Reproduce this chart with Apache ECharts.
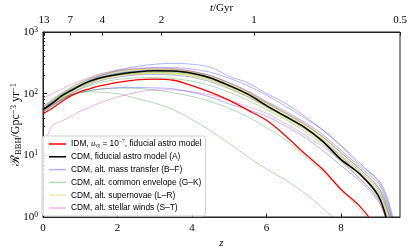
<!DOCTYPE html>
<html><head><meta charset="utf-8">
<script src="https://cdn.jsdelivr.net/npm/echarts@6/dist/echarts.min.js"></script>
<style>html,body{margin:0;padding:0;background:#fff}#c{width:413px;height:252px}</style>
</head><body><div id="c"></div>
<script>
// redshift grid shared by every curve
const zValues = [0,0.25,0.5,0.75,1,1.25,1.5,2,2.5,3,3.5,4,4.5,5,5.5,6,6.5,7,7.5,8,8.5,9,9.25,9.5];

const idmFiducial = [47,58,74,92,108,120,132,152,168,172,165,135,105,78,54,37,21,11,6,2.8,1.5,0.6,0.3,0.1];
const cdmFiducial = [55,70,92,112,135,158,178,205,225,235,234,215,180,135,98,64,43,29,17,8.5,5,2.2,0.8,0.2];

const massTransfer = [
  [60,76,97,118,140,165,190,240,275,300,310,300,268,190,150,100,70,44,26,14,7,4,2,0.5],
  [58,74,94,116,140,163,185,215,235,245,245,228,195,150,110,75,52,35,22,12,6.5,3.5,1.6,0.4],
  [52,66,80,95,105,112,118,125,126,124,120,105,88,68,55,43,30,20,12,6.8,3.8,1.8,0.8,0.2],
  [50,63,78,100,120,140,160,185,200,205,200,185,155,120,88,62,42,28,17,9.5,5,2.5,1.2,0.3],
  [62,80,100,125,150,172,195,230,252,264,264,250,222,178,134,94,63,41,26,14.5,7.5,3.8,1.8,0.45]
];
const commonEnvelope = [
  [55,70,85,97,103,107,106,100,84,70,55,38,25,15.5,9.5,6,4,2.5,1.4,0.75,0.35,0.15,0.1,0.05],
  [52,66,80,95,105,112,118,123,122,115,103,90,74,58,42,28,18,10,5.5,2.8,1.3,0.5,0.25,0.1],
  [54,70,88,108,130,150,172,200,215,222,220,205,172,130,95,63,43,29,18,10,5.5,2.8,1.3,0.4],
  [57,73,92,115,138,160,180,212,228,232,228,212,178,138,100,70,48,32,20,11,6,3,1.5,0.4],
  [50,64,82,100,118,134,150,170,180,182,175,160,135,105,78,55,38,25,15,8,4.2,2,0.9,0.25]
];
const supernovae = [
  [62,82,105,130,155,180,205,235,250,255,250,228,190,145,105,70,48,32,20,11,6,3,1.4,0.35],
  [58,76,96,120,145,168,190,222,240,245,240,220,185,140,102,68,46,31,19,10,5.5,2.6,1.1,0.3],
  [55,70,88,110,132,152,172,200,212,218,214,198,168,128,93,62,42,28,17,9,5,2.3,1.0,0.25],
  [52,67,84,104,125,144,162,190,205,210,206,190,160,122,88,59,40,27,16,8.5,4.6,2.1,0.9,0.2],
  [60,80,100,125,150,175,198,228,245,250,246,226,192,146,106,72,50,34,21,12,6.5,3.2,1.5,0.4],
  [56,72,90,113,137,158,178,206,224,232,230,212,178,134,97,65,44,30,18,9.5,5.2,2.4,1.0,0.25],
  [54,68,86,106,128,148,168,196,210,215,212,196,165,125,90,60,41,27,16,8.8,4.8,2.2,1.0,0.25]
];
const stellarWinds = [
  [85,100,118,140,160,182,205,240,258,262,255,232,195,150,108,72,49,33,20,11,6,3,1.3,0.3],
  [14,30,36,43,52,60,70,88,105,115,115,107,95,78,62,48,33,22,14,8,4.2,1.9,0.7,0.2]
];

// top axis: cosmic time labels and their redshift positions
const timeTickLabels = ['13','7','4','2','1','0.5'];
const timeTickZ = [0.03,0.73,1.59,3.18,5.66,9.58];
const zTickValues = [0,2,4,6,8];
const yMajor = [1,10,100,1000];
const yMinor = [2,3,4,5,6,7,8,9,20,30,40,50,60,70,80,90,200,300,400,500,600,700,800,900];

const names = {
  idm: 'IDM, fiducial',
  cdm: 'CDM, fiducial astro model (A)',
  mt: 'CDM, alt. mass transfer (B–F)',
  ce: 'CDM, alt. common envelope (G–K)',
  sn: 'CDM, alt. supernovae (L–R)',
  sw: 'CDM, alt. stellar winds (S–T)'
};
const colors = {
  idm: '#ff0000', cdm: '#000000',
  mt: 'rgba(0,0,255,0.3)', ce: 'rgba(0,128,0,0.3)',
  sn: 'rgba(191,191,0,0.3)', sw: 'rgba(191,0,191,0.3)'
};
const zmax = 9.58;
const serif = '"Liberation Serif", "DejaVu Serif", serif';
const sans = '"Liberation Sans", "DejaVu Sans", sans-serif';

function pairs(vals){ return zValues.map((z,i)=>[z, vals[i]]); }
function mk(key, vals, w){
  return {name: names[key], type:'line', data: pairs(vals), showSymbol:false, symbol:'none',
    smooth:0.3, clip:true, color: colors[key], lineStyle:{width:w, color: colors[key]},
    emphasis:{disabled:true}, xAxisIndex:0, yAxisIndex:0};
}
const series = [];
massTransfer.forEach(v=>series.push(mk('mt', v, 1)));
commonEnvelope.forEach(v=>series.push(mk('ce', v, 1)));
supernovae.forEach(v=>series.push(mk('sn', v, 1)));
stellarWinds.forEach(v=>series.push(mk('sw', v, 1)));
series.push(mk('idm', idmFiducial, 1.3));
series.push(mk('cdm', cdmFiducial, 1.5));

const chart = echarts.init(document.getElementById('c'), null, {renderer:'canvas'});
chart.setOption({
  animation:false,
  backgroundColor:'#fff',
  grid:{left:43, right:13, top:32, bottom:35, containLabel:false, outerBoundsMode:'none',
        show:true, borderColor:'#222', borderWidth:1, backgroundColor:'transparent'},
  legend:{
    orient:'vertical', left:42, top:136, data:[names.idm,names.cdm,names.mt,names.ce,names.sn,names.sw],
    icon:'rect', itemWidth:17, itemHeight:1.5, itemGap:2.8,
    backgroundColor:'rgba(255,255,255,0.85)', borderColor:'#d0d0d0', borderWidth:1, borderRadius:3,
    padding:[3,4,3,7],
    textStyle:{fontFamily:sans, fontSize:8.4, color:'#000', lineHeight:10,
      rich:{
        n:{fontFamily:sans, fontSize:8.4, lineHeight:10},
        i:{fontFamily:serif, fontStyle:'italic', fontSize:8.4, lineHeight:10},
        sub:{fontFamily:serif, fontStyle:'italic', fontSize:5.5, lineHeight:10, verticalAlign:'bottom', padding:[3,0,0,0]},
        sup:{fontFamily:serif, fontSize:5.5, lineHeight:10, verticalAlign:'top'}
      }},
    formatter:function(n){
      if(n===names.idm) return '{n|IDM, }{i|u}{sub|νχ}{n| = 10}{sup|−7}{n|, fiducial astro model}';
      return n;
    }
  },
  xAxis:[
    {type:'value', min:0, max:zmax, position:'bottom',
     name:'z', nameLocation:'middle', nameGap:21, nameMoveOverlap:false,
     nameTextStyle:{fontFamily:serif, fontStyle:'italic', fontSize:11, color:'#000'},
     axisLine:{show:true, lineStyle:{color:'#222', width:1}},
     axisTick:{show:true, inside:true, length:3.5, customValues:zTickValues, lineStyle:{color:'#222'}},
     axisLabel:{customValues:zTickValues, margin:6, fontFamily:serif, fontSize:11, color:'#000'},
     splitLine:{show:false}},
    {type:'value', min:0, max:zmax, position:'top',
     name:'{i|t}{n|/Gyr}', nameLocation:'middle', nameGap:18, nameMoveOverlap:false,
     nameTextStyle:{fontSize:11, color:'#000', rich:{
        i:{fontFamily:serif, fontStyle:'italic', fontSize:11},
        n:{fontFamily:serif, fontSize:11}}},
     axisLine:{show:true, lineStyle:{color:'#222', width:1}},
     axisTick:{show:true, inside:true, length:3.5, customValues:timeTickZ, lineStyle:{color:'#222'}},
     axisLabel:{customValues:timeTickZ, margin:6, fontFamily:serif, fontSize:11, color:'#000',
       formatter:function(v){ let k=0,b=1e9; timeTickZ.forEach((z,i)=>{const d=Math.abs(z-v); if(d<b){b=d;k=i;}}); return timeTickLabels[k]; }},
     splitLine:{show:false}}
  ],
  yAxis:[
    {type:'log', min:1, max:1000, logBase:10, position:'left',
     name:'{i|ℛ}{sub|BBH}{n|/Gpc}{sup|−3}{n| yr}{sup|−1}', nameLocation:'middle', nameGap:20, nameRotate:90,
     nameMoveOverlap:false,
     nameTextStyle:{color:'#000', rich:{
       i:{fontFamily:serif, fontSize:12.5},
       n:{fontFamily:serif, fontSize:12},
       sub:{fontFamily:serif, fontSize:8.5, verticalAlign:'bottom', padding:[5,0,0,0]},
       sup:{fontFamily:serif, fontSize:8.5, verticalAlign:'top'}}},
     axisLine:{show:true, lineStyle:{color:'#222', width:1}},
     axisTick:{show:true, inside:true, length:4, customValues:yMajor, lineStyle:{color:'#222'}},
     axisLabel:{customValues:yMajor, margin:5, color:'#000',
       formatter:function(v){ const e=Math.round(Math.log10(v)); return '{b|10}{s|'+e+'}'; },
       rich:{b:{fontFamily:serif, fontSize:11, lineHeight:12},
             s:{fontFamily:serif, fontSize:7.5, lineHeight:12, verticalAlign:'top'}}},
     splitLine:{show:false}},
    {type:'log', min:1, max:1000, logBase:10, position:'left',
     axisLine:{show:false}, axisLabel:{show:false}, splitLine:{show:false},
     axisTick:{show:true, inside:true, length:2, customValues:yMinor, lineStyle:{color:'#222'}}}
  ],
  series: series
});
</script></body></html>
